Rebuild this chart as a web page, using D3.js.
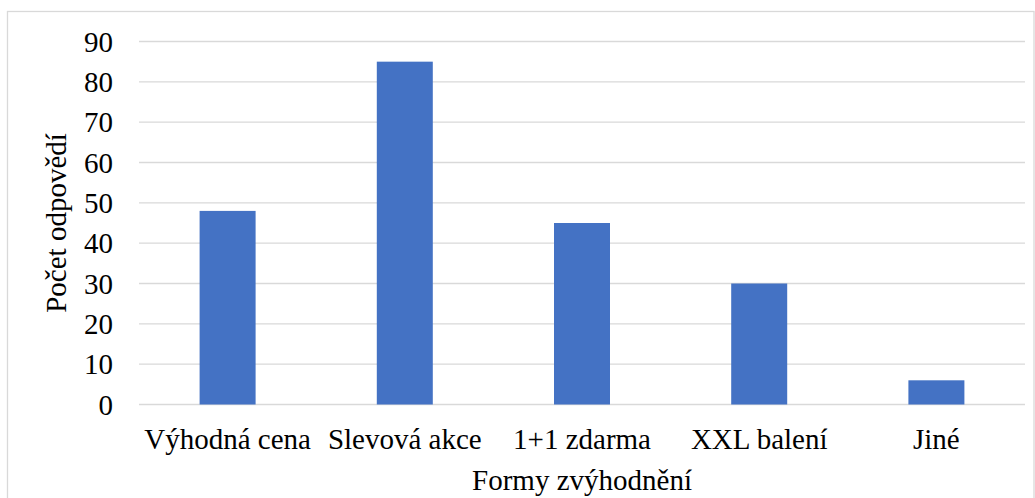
<!DOCTYPE html>
<html>
<head>
<meta charset="utf-8">
<script src="https://cdn.jsdelivr.net/npm/d3@7"></script>
<style>
  html, body { margin: 0; padding: 0; background: #fff; }
  svg { display: block; }
  text { font-family: "Liberation Serif", "Times New Roman", "DejaVu Serif", serif; fill: #000; }
</style>
</head>
<body>
<svg id="chart" width="1035" height="498"></svg>
<script>
const categories = ["Výhodná cena", "Slevová akce", "1+1 zdarma", "XXL balení", "Jiné"];
const values = [48, 85, 45, 30, 6];
const yTicks = [0, 10, 20, 30, 40, 50, 60, 70, 80, 90];
const xTitle = "Formy zvýhodnění";
const yTitle = "Počet odpovědí";

const svg = d3.select("#chart");
const W = 1035, H = 498;
const plot = { left: 139, right: 1025, top: 41.5, bottom: 404.5 };
const fontSize = 29;

// outer border
svg.append("rect")
  .attr("x", 7.5).attr("y", 11.5)
  .attr("width", W - 8.5).attr("height", H)
  .attr("fill", "#fff").attr("stroke", "#d9d9d9").attr("stroke-width", 1.3);

const x = d3.scaleBand()
  .domain(categories)
  .range([plot.left, plot.right])
  .paddingInner(0.684)
  .paddingOuter(0.342);

const y = d3.scaleLinear()
  .domain([0, 90])
  .range([plot.bottom, plot.top]);

// gridlines
svg.append("g")
  .selectAll("line")
  .data(yTicks)
  .join("line")
  .attr("x1", plot.left).attr("x2", plot.right)
  .attr("y1", d => y(d)).attr("y2", d => y(d))
  .attr("stroke", "#d9d9d9").attr("stroke-width", 1.3);

// y tick labels
svg.append("g")
  .selectAll("text")
  .data(yTicks)
  .join("text")
  .attr("x", plot.left - 26)
  .attr("y", d => y(d))
  .attr("dy", "0.35em")
  .attr("text-anchor", "end")
  .style("font-size", fontSize + "px")
  .text(d => d);

// bars
svg.append("g")
  .selectAll("rect")
  .data(values)
  .join("rect")
  .attr("x", (d, i) => x(categories[i]))
  .attr("width", x.bandwidth())
  .attr("y", d => y(d))
  .attr("height", d => y(0) - y(d))
  .attr("fill", "#4472c4");

// category labels
svg.append("g")
  .selectAll("text")
  .data(categories)
  .join("text")
  .attr("x", d => x(d) + x.bandwidth() / 2)
  .attr("y", 449)
  .attr("text-anchor", "middle")
  .style("font-size", fontSize + "px")
  .text(d => d);

// axis titles
svg.append("text")
  .attr("x", (plot.left + plot.right) / 2)
  .attr("y", 490)
  .attr("text-anchor", "middle")
  .style("font-size", fontSize + "px")
  .text(xTitle);

svg.append("text")
  .attr("transform", `translate(66, ${(plot.top + plot.bottom) / 2}) rotate(-90)`)
  .attr("text-anchor", "middle")
  .style("font-size", fontSize + "px")
  .text(yTitle);
</script>
</body>
</html>
